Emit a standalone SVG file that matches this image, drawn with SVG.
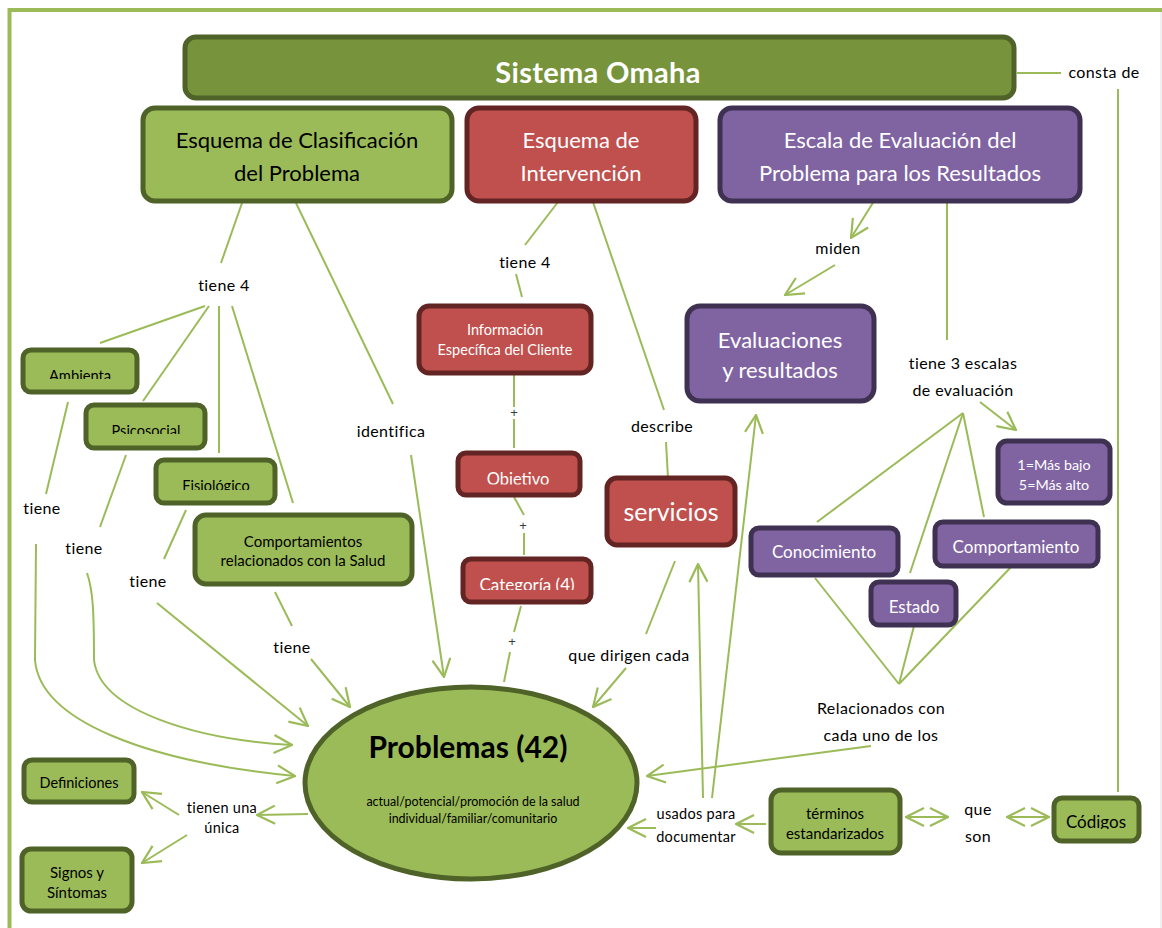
<svg xmlns="http://www.w3.org/2000/svg" width="1162" height="928" viewBox="0 0 1162 928">
  <defs>
    <style>
      .g { fill: #9bbb59; stroke: #4f6228; stroke-width: 5; }
      .r { fill: #c0504d; stroke: #632523; stroke-width: 5; }
      .p { fill: #8064a2; stroke: #3f3151; stroke-width: 5; }
      .top { fill: #77933c; stroke: #4f6228; stroke-width: 5; }
      text { font-family: Lato, "Open Sans", sans-serif; text-anchor: middle; }
      .dk { fill: #000000; }
      .wt { fill: #ffffff; }
      .lbl { font-size: 16px; letter-spacing: 0.4px; fill: #000000; }
      .sm { font-size: 14.5px; letter-spacing: 0.3px; }
      .con line, .con path { stroke: #9bbb59; stroke-width: 2; fill: none; }
      .plus { font-family: "Liberation Sans", sans-serif; font-size: 13px; fill: #3a3a3a; }
    </style>
    <marker id="arr" viewBox="0 0 20 20" markerWidth="20" markerHeight="20" refX="19" refY="10" orient="auto-start-reverse" markerUnits="userSpaceOnUse">
      <path d="M1,1 L19,10 L1,19" fill="none" stroke="#9bbb59" stroke-width="2.2"/>
    </marker>
    <clipPath id="cAmb" clipPathUnits="userSpaceOnUse"><rect x="20" y="340" width="125" height="39"/></clipPath>
    <clipPath id="cPsi" clipPathUnits="userSpaceOnUse"><rect x="80" y="400" width="130" height="34"/></clipPath>
    <clipPath id="cFis" clipPathUnits="userSpaceOnUse"><rect x="150" y="455" width="130" height="35"/></clipPath>
    <clipPath id="cObj" clipPathUnits="userSpaceOnUse"><rect x="450" y="448" width="135" height="36.5"/></clipPath>
    <clipPath id="cCat" clipPathUnits="userSpaceOnUse"><rect x="455" y="553" width="140" height="37"/></clipPath>
    <clipPath id="cCmp" clipPathUnits="userSpaceOnUse"><rect x="930" y="518" width="172" height="37.5"/></clipPath>
    <clipPath id="cCod" clipPathUnits="userSpaceOnUse"><rect x="1050" y="794" width="92" height="35"/></clipPath>
  </defs>

  <rect x="0" y="0" width="1162" height="928" fill="#ffffff"/>

  <!-- page frame -->
  <line x1="9" y1="10" x2="1162" y2="10" stroke="#9bbb59" stroke-width="4"/>
  <line x1="9.5" y1="8" x2="9.5" y2="928" stroke="#9bbb59" stroke-width="4"/>
  <line x1="1161" y1="12" x2="1161" y2="928" stroke="#e2e2e2" stroke-width="1"/>

  <!-- connectors -->
  <g id="connectors" class="con">
    <line x1="1017" y1="73" x2="1061" y2="73"/>
    <line x1="1118" y1="89" x2="1118" y2="792"/>

    <line x1="242" y1="203" x2="221" y2="263"/>
    <line x1="205" y1="306" x2="100" y2="343"/>
    <line x1="209" y1="306" x2="143" y2="401"/>
    <line x1="219" y1="306" x2="219" y2="453"/>
    <line x1="232" y1="306" x2="293" y2="503"/>
    <line x1="296" y1="203" x2="393" y2="404"/>
    <line x1="411" y1="455" x2="444" y2="677" marker-end="url(#arr)"/>

    <line x1="68" y1="402" x2="46" y2="494"/>
    <path d="M36,544 L35,660 C40,722 150,762 295,776" marker-end="url(#arr)"/>
    <line x1="126" y1="455" x2="100" y2="527"/>
    <path d="M87,573 C93,590 94,612 94,660 C100,712 200,740 292,745" marker-end="url(#arr)"/>
    <line x1="186" y1="510" x2="164" y2="559"/>
    <line x1="157" y1="603" x2="308" y2="726" marker-end="url(#arr)"/>
    <line x1="275" y1="592" x2="292" y2="626"/>
    <line x1="311" y1="659" x2="350" y2="707" marker-end="url(#arr)"/>

    <line x1="558" y1="202" x2="525" y2="245"/>
    <line x1="516" y1="274" x2="522" y2="297"/>
    <line x1="514" y1="374" x2="514" y2="407"/>
    <line x1="514" y1="419" x2="514" y2="448"/>
    <line x1="514" y1="497" x2="524" y2="515"/>
    <line x1="524" y1="533" x2="524" y2="555"/>
    <line x1="521" y1="606" x2="514" y2="632"/>
    <line x1="510" y1="652" x2="504" y2="682"/>
    <line x1="593" y1="202" x2="664" y2="410"/>
    <line x1="666" y1="442" x2="668" y2="478"/>
    <line x1="675" y1="561" x2="646" y2="634"/>
    <line x1="626" y1="668" x2="593" y2="707" marker-end="url(#arr)"/>

    <line x1="874" y1="201" x2="851" y2="238" marker-end="url(#arr)"/>
    <line x1="835" y1="265" x2="785" y2="295" marker-end="url(#arr)"/>
    <line x1="947" y1="201" x2="947" y2="340"/>
    <line x1="980" y1="402" x2="1016" y2="430" marker-end="url(#arr)"/>
    <line x1="963" y1="413" x2="817" y2="522"/>
    <line x1="963" y1="413" x2="910" y2="573"/>
    <line x1="963" y1="413" x2="984" y2="517"/>
    <line x1="815" y1="578" x2="899" y2="684"/>
    <line x1="914" y1="626" x2="899" y2="684"/>
    <line x1="1012" y1="566" x2="899" y2="684"/>
    <line x1="871" y1="746" x2="647" y2="776" marker-end="url(#arr)"/>

    <line x1="703" y1="798" x2="698" y2="564" marker-end="url(#arr)"/>
    <line x1="712" y1="798" x2="756" y2="415" marker-end="url(#arr)"/>
    <line x1="656" y1="828" x2="628" y2="828" marker-end="url(#arr)"/>
    <line x1="766" y1="824" x2="736" y2="824" marker-end="url(#arr)"/>
    <line x1="906" y1="817" x2="948" y2="817" marker-start="url(#arr)" marker-end="url(#arr)"/>
    <line x1="1007" y1="817" x2="1049" y2="817" marker-start="url(#arr)" marker-end="url(#arr)"/>

    <line x1="308" y1="814" x2="257" y2="815" marker-end="url(#arr)"/>
    <line x1="179" y1="815" x2="142" y2="792" marker-end="url(#arr)"/>
    <line x1="187" y1="835" x2="142" y2="863" marker-end="url(#arr)"/>
  </g>

  <!-- connector labels -->
  <g id="labels">
    <text class="lbl" x="1104" y="78">consta de</text>
    <text class="lbl" x="224" y="291">tiene 4</text>
    <text class="lbl" x="391" y="437">identifica</text>
    <text class="lbl" x="42" y="514">tiene</text>
    <text class="lbl" x="84" y="554">tiene</text>
    <text class="lbl" x="148" y="587">tiene</text>
    <text class="lbl" x="292" y="653">tiene</text>
    <text class="lbl" x="525" y="268">tiene 4</text>
    <text class="plus" x="514" y="417">+</text>
    <text class="plus" x="523" y="530">+</text>
    <text class="plus" x="512" y="646">+</text>
    <text class="lbl" x="662" y="432">describe</text>
    <text class="lbl" x="629" y="661">que dirigen cada</text>
    <text class="lbl" x="838" y="254">miden</text>
    <text class="lbl" x="963" y="369">tiene 3 escalas</text>
    <text class="lbl" x="963" y="396">de evaluación</text>
    <text class="lbl" x="881" y="714">Relacionados con</text>
    <text class="lbl" x="881" y="741">cada uno de los</text>
    <text class="lbl sm" x="222" y="813">tienen una</text>
    <text class="lbl sm" x="222" y="833">única</text>
    <text class="lbl sm" x="696" y="819">usados para</text>
    <text class="lbl sm" x="696" y="842">documentar</text>
    <text class="lbl" x="978" y="815">que</text>
    <text class="lbl" x="978" y="842">son</text>
  </g>

  <!-- nodes -->
  <g id="sistema-omaha">
    <rect class="top" x="185" y="37" width="829" height="61" rx="11"/>
    <text x="598" y="83" class="wt" style="font-size:29px;font-weight:bold;letter-spacing:0.3px">Sistema Omaha</text>
  </g>

  <g id="esquema-clasificacion">
    <rect class="g" x="143" y="108" width="309" height="93" rx="12"/>
    <text x="297" y="148" class="dk" style="font-size:22px">Esquema de Clasificación</text>
    <text x="297" y="181" class="dk" style="font-size:22px">del Problema</text>
  </g>

  <g id="esquema-intervencion">
    <rect class="r" x="467" y="108" width="229" height="93" rx="12"/>
    <text x="581" y="148" class="wt" style="font-size:22px">Esquema de</text>
    <text x="581" y="181" class="wt" style="font-size:22px">Intervención</text>
  </g>

  <g id="escala-evaluacion">
    <rect class="p" x="720" y="108" width="360" height="93" rx="12"/>
    <text x="900" y="148" class="wt" style="font-size:22px">Escala de Evaluación del</text>
    <text x="900" y="181" class="wt" style="font-size:22px">Problema para los Resultados</text>
  </g>

  <g id="ambienta">
    <rect class="g" x="23" y="350" width="114" height="42" rx="8"/>
    <text x="80" y="381" class="dk" style="font-size:14.7px" clip-path="url(#cAmb)">Ambienta</text>
  </g>

  <g id="psicosocial">
    <rect class="g" x="86" y="405" width="119" height="43" rx="8"/>
    <text x="146" y="436" class="dk" style="font-size:14.5px" clip-path="url(#cPsi)">Psicosocial</text>
  </g>

  <g id="fisiologico">
    <rect class="g" x="156" y="460" width="119" height="43" rx="8"/>
    <text x="216" y="491" class="dk" style="font-size:14.5px" clip-path="url(#cFis)">Fisiológico</text>
  </g>

  <g id="comportamientos-salud">
    <rect class="g" x="195" y="515" width="217" height="69" rx="11"/>
    <text x="303" y="547" class="dk" style="font-size:15px">Comportamientos</text>
    <text x="303" y="566" class="dk" style="font-size:15px">relacionados con la Salud</text>
  </g>

  <g id="informacion-cliente">
    <rect class="r" x="419" y="306" width="172" height="67" rx="10"/>
    <text x="505" y="335" class="wt" style="font-size:14.5px">Información</text>
    <text x="505" y="355" class="wt" style="font-size:14.5px">Específica del Cliente</text>
  </g>

  <g id="objetivo">
    <rect class="r" x="458" y="453" width="122" height="42" rx="8"/>
    <text x="518" y="485" class="wt" style="font-size:16.5px" clip-path="url(#cObj)">Objetivo</text>
  </g>

  <g id="categoria">
    <rect class="r" x="463" y="559" width="128" height="43" rx="8"/>
    <text x="527" y="591" class="wt" style="font-size:17px" clip-path="url(#cCat)">Categoría (4)</text>
  </g>

  <g id="servicios">
    <rect class="r" x="607" y="478" width="128" height="67" rx="10"/>
    <text x="671" y="521" class="wt" style="font-size:25px">servicios</text>
  </g>

  <g id="evaluaciones-resultados">
    <rect class="p" x="687" y="306" width="187" height="95" rx="13"/>
    <text x="780" y="348" class="wt" style="font-size:22px">Evaluaciones</text>
    <text x="780" y="378" class="wt" style="font-size:22px">y resultados</text>
  </g>

  <g id="escala-valores">
    <rect class="p" x="998" y="441" width="112" height="62" rx="9"/>
    <text x="1054" y="470" class="wt" style="font-size:14.3px">1=Más bajo</text>
    <text x="1054" y="490" class="wt" style="font-size:14.3px">5=Más alto</text>
  </g>

  <g id="conocimiento">
    <rect class="p" x="751" y="528" width="147" height="47" rx="8"/>
    <text x="824" y="558" class="wt" style="font-size:17px">Conocimiento</text>
  </g>

  <g id="comportamiento">
    <rect class="p" x="935" y="522" width="163" height="44" rx="8"/>
    <text x="1016" y="553" class="wt" style="font-size:17px" clip-path="url(#cCmp)">Comportamiento</text>
  </g>

  <g id="estado">
    <rect class="p" x="871" y="582" width="85" height="43" rx="8"/>
    <text x="914" y="613" class="wt" style="font-size:17px">Estado</text>
  </g>

  <g id="problemas">
    <ellipse class="g" cx="471" cy="783" rx="166" ry="96"/>
    <text x="468" y="758" class="dk" style="font-size:30px;font-weight:bold">Problemas (42)</text>
    <text x="473" y="806" class="dk" style="font-size:12.5px">actual/potencial/promoción de la salud</text>
    <text x="473" y="823" class="dk" style="font-size:12.5px">individual/familiar/comunitario</text>
  </g>

  <g id="definiciones">
    <rect class="g" x="24" y="760" width="110" height="42" rx="8"/>
    <text x="79" y="788" class="dk" style="font-size:14.5px">Definiciones</text>
  </g>

  <g id="signos-sintomas">
    <rect class="g" x="22" y="849" width="110" height="62" rx="9"/>
    <text x="77" y="878" class="dk" style="font-size:15px">Signos y</text>
    <text x="77" y="898" class="dk" style="font-size:15px">Síntomas</text>
  </g>

  <g id="terminos-estandarizados">
    <rect class="g" x="771" y="790" width="129" height="63" rx="10"/>
    <text x="835" y="819" class="dk" style="font-size:15px">términos</text>
    <text x="835" y="839" class="dk" style="font-size:15px">estandarizados</text>
  </g>

  <g id="codigos">
    <rect class="g" x="1054" y="798" width="85" height="43" rx="8"/>
    <text x="1096" y="828" class="dk" style="font-size:17px" clip-path="url(#cCod)">Códigos</text>
  </g>
</svg>
